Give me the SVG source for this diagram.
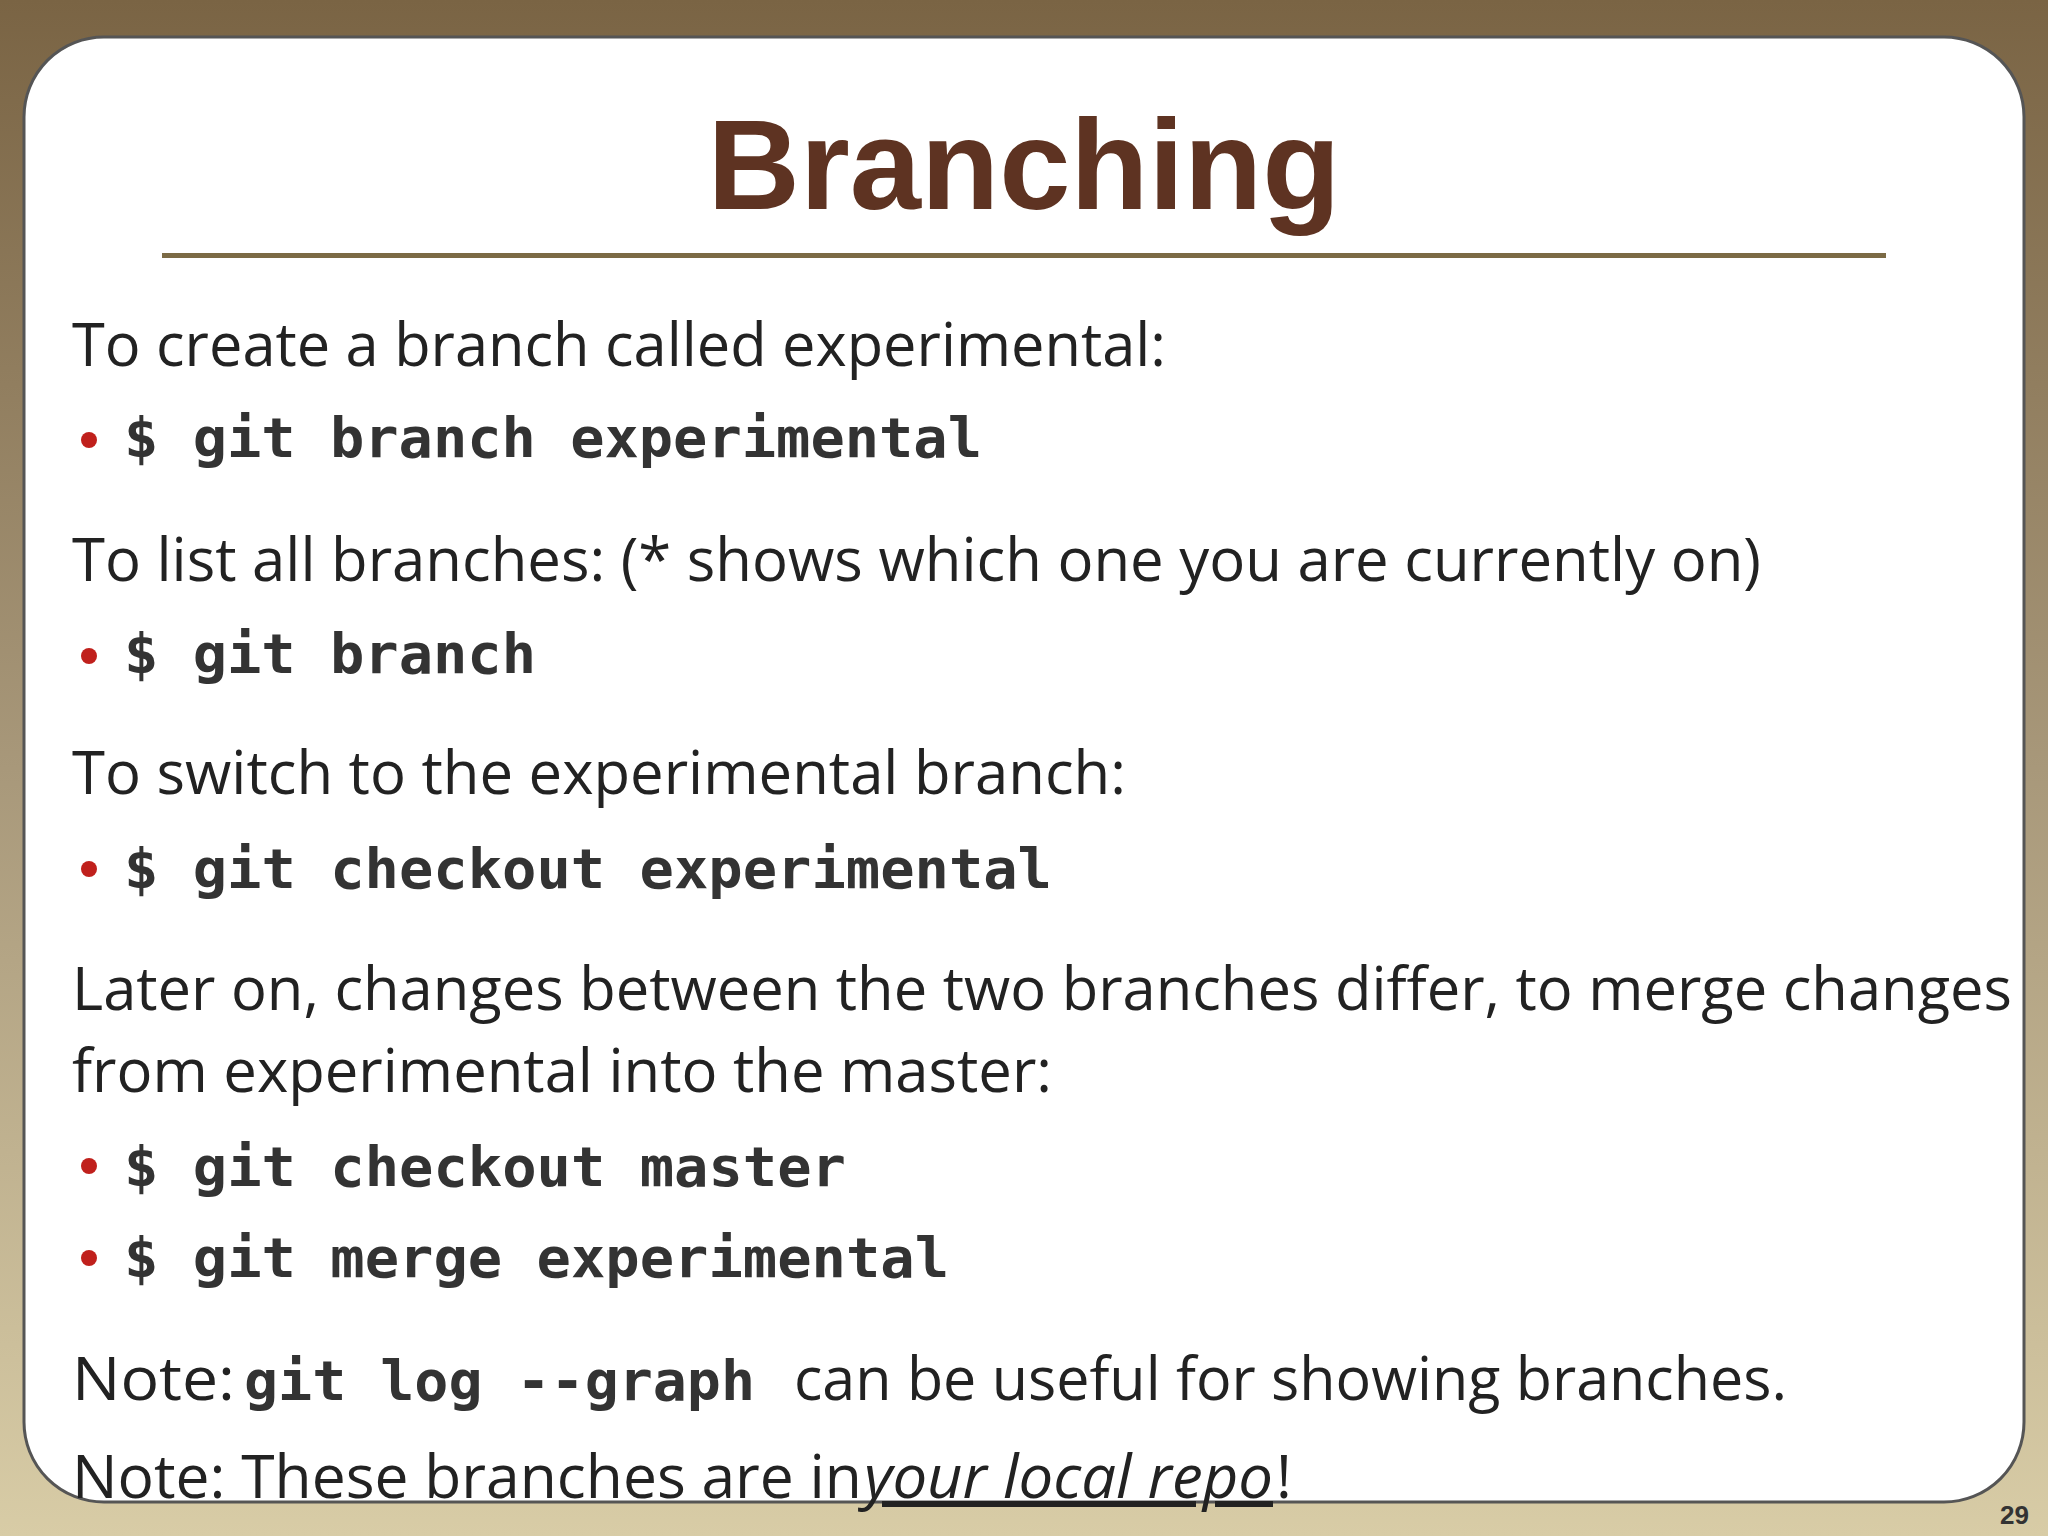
<svg xmlns="http://www.w3.org/2000/svg" width="2048" height="1536" viewBox="0 0 2048 1536">
<defs>
<linearGradient id="bg" x1="0" y1="0" x2="0" y2="1">
<stop offset="0" stop-color="#7a6444"/><stop offset="0.5" stop-color="#a8987a"/><stop offset="1" stop-color="#d8cca6"/>
</linearGradient>
<style>
.t{font-family:"Open Sans","Liberation Sans",sans-serif;font-size:60px;fill:#222}
.c{font-family:"DejaVu Sans Mono","Liberation Mono",monospace;font-weight:bold;font-size:56px;fill:#333}
.b{fill:#c0201c}
</style>
</defs>
<rect width="2048" height="1536" fill="url(#bg)"/>
<rect x="24" y="37" width="2000" height="1465" rx="80" fill="#fff" stroke="#555" stroke-width="3"/>
<g id="title">
<text x="1024" y="209" text-anchor="middle" font-family="Liberation Sans,Arial,sans-serif" font-weight="bold" font-size="128" fill="#5e3322">Branching</text>
<rect x="162" y="253" width="1724" height="5" fill="#7b6a45"/>
</g>
<g id="body">
<text class="t" x="72" y="366" textLength="1094" lengthAdjust="spacingAndGlyphs">To create a branch called experimental:</text>
<circle class="b" cx="89" cy="440" r="8"/>
<text class="c" x="124" y="457" textLength="858" lengthAdjust="spacingAndGlyphs">$ git branch experimental</text>
<text class="t" x="72" y="581" textLength="1689" lengthAdjust="spacingAndGlyphs">To list all branches: (* shows which one you are currently on)</text>
<circle class="b" cx="89" cy="656" r="8"/>
<text class="c" x="124" y="673" textLength="412" lengthAdjust="spacingAndGlyphs">$ git branch</text>
<text class="t" x="72" y="794" textLength="1054" lengthAdjust="spacingAndGlyphs">To switch to the experimental branch:</text>
<circle class="b" cx="89" cy="869" r="8"/>
<text class="c" x="124" y="888" textLength="928" lengthAdjust="spacingAndGlyphs">$ git checkout experimental</text>
<text class="t" x="72" y="1010" textLength="1940" lengthAdjust="spacingAndGlyphs">Later on, changes between the two branches differ, to merge changes</text>
<text class="t" x="72" y="1092" textLength="980" lengthAdjust="spacingAndGlyphs">from experimental into the master:</text>
<circle class="b" cx="89" cy="1166" r="8"/>
<text class="c" x="124" y="1186" textLength="722" lengthAdjust="spacingAndGlyphs">$ git checkout master</text>
<circle class="b" cx="89" cy="1258" r="8"/>
<text class="c" x="124" y="1277" textLength="825" lengthAdjust="spacingAndGlyphs">$ git merge experimental</text>
<text class="t" x="72" y="1400" textLength="163" lengthAdjust="spacingAndGlyphs">Note:</text>
<text class="c" x="244" y="1400" textLength="511" lengthAdjust="spacingAndGlyphs">git log --graph</text>
<text class="t" x="794" y="1400" textLength="993" lengthAdjust="spacingAndGlyphs">can be useful for showing branches.</text>
<text class="t" x="72" y="1498" textLength="790" lengthAdjust="spacingAndGlyphs">Note: These branches are in</text>
<text class="t" x="864" y="1498" font-style="italic" text-decoration="underline" textLength="409" lengthAdjust="spacingAndGlyphs">your local repo</text>
<text class="t" x="1276" y="1498">!</text>
<text x="2000" y="1524" font-family="Liberation Sans,Arial,sans-serif" font-weight="bold" font-size="26" fill="#333">29</text>
</g>
</svg>
